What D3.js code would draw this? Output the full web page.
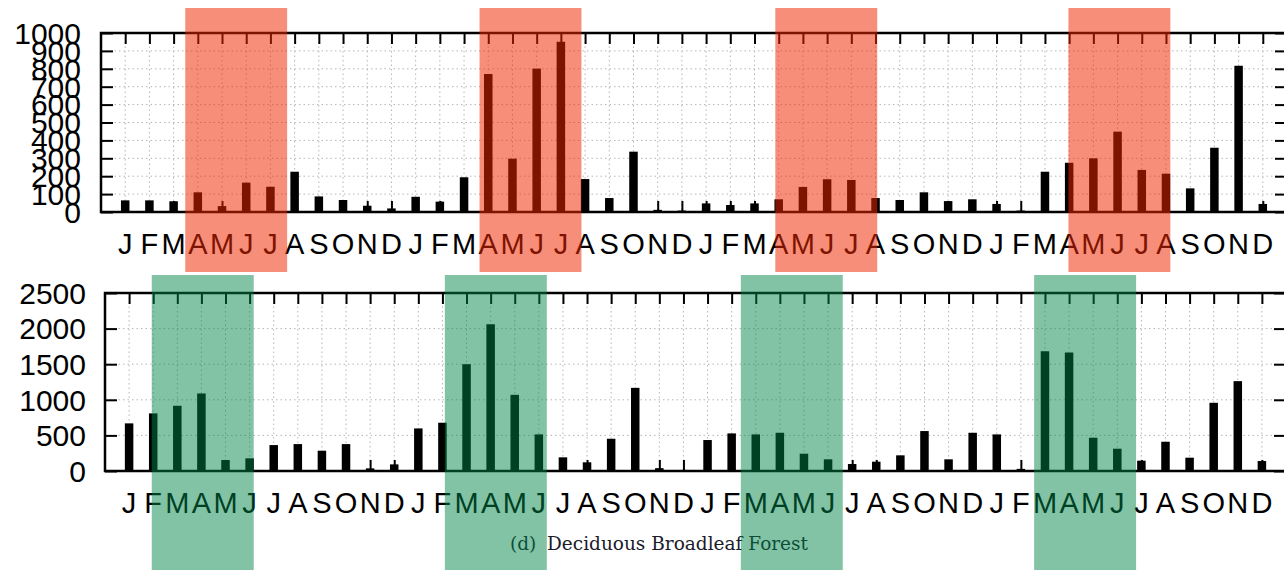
<!DOCTYPE html>
<html>
<head>
<meta charset="utf-8">
<script src="https://cdnjs.cloudflare.com/ajax/libs/d3/7.8.5/d3.min.js"></script>
<style>
	html, body { margin: 0; padding: 0; background: #fff; }
	svg { display: block; }
	.grid line { stroke: #b5b5b5; stroke-width: 1; stroke-dasharray: 1.5,3; }
	.tick-label { font-family: 'Liberation Sans', Arial, Helvetica, sans-serif; fill: #000; }
	.caption { font-family: 'DejaVu Serif', 'Liberation Serif', serif; fill: #1b1b2a; }
</style>
</head>
<body>
<svg id="chart" width="1284" height="570"></svg>
<script>
// month letters, repeated for 4 years on the x axis
let monthLetters = ['J', 'F', 'M', 'A', 'M', 'J', 'J', 'A', 'S', 'O', 'N', 'D'];
let monthLabels = [].concat(monthLetters, monthLetters, monthLetters, monthLetters);

// upper panel (monthly values, 4 years)
let topValues = [
	65, 65, 60, 110, 33, 164, 141, 225, 87, 67, 35, 20,
	85, 58, 194, 771, 298, 801, 951, 184, 78, 337, 12, 8,
	48, 39, 48, 71, 140, 183, 179, 78, 67, 110, 61, 71,
	45, 8, 225, 275, 300, 449, 235, 214, 132, 359, 817, 45
];
let topTicks = [0, 100, 200, 300, 400, 500, 600, 700, 800, 900, 1000];
// shaded season, start in month units (0 = first bar), width in months
let topShadeStart = [2.48, 14.64, 26.86, 38.97];
let topShadeWidth = 4.21;

// lower panel
let bottomValues = [
	669, 809, 916, 1089, 154, 178, 364, 378, 285, 378, 37, 93,
	598, 678, 1500, 2061, 1070, 514, 192, 122, 453, 1168, 40, 15,
	435, 528, 514, 537, 243, 164, 98, 131, 220, 561, 164, 537,
	514, 30, 1682, 1664, 467, 313, 145, 411, 187, 958, 1262, 140
];
let bottomTicks = [0, 500, 1000, 1500, 2000, 2500];
let bottomShadeStart = [0.94, 13.1, 25.38, 37.55];
let bottomShadeWidth = 4.23;

let caption = ['(d)', 'Deciduous Broadleaf Forest'];

/*global d3*/
let svg = d3.select('#chart');

let panels = [{
	values: topValues, ticks: topTicks, max: 1000,
	shades: topShadeStart, shadeWidth: topShadeWidth,
	left: 101, right: 1287, top: 33, bottom: 212,
	labelX: 81, monthY: 254,
	shadeTop: 8, shadeBottom: 272,
	shadeColor: 'rgb(240,38,0)', shadeOpacity: 0.52
}, {
	values: bottomValues, ticks: bottomTicks, max: 2500,
	shades: bottomShadeStart, shadeWidth: bottomShadeWidth,
	left: 105, right: 1286, top: 293, bottom: 471,
	labelX: 86, monthY: 513,
	shadeTop: 275, shadeBottom: 570,
	shadeColor: 'rgb(0,130,72)', shadeOpacity: 0.49
}];

let layers = panels.map(() => svg.append('g'));
let shadeLayer = svg.append('g');

panels.forEach((p, k) => {
	let g = layers[k];
	let idx = d3.range(p.values.length);

	let x = d3.scaleLinear()
		.domain([-1, p.values.length])
		.range([p.left, p.right]);
	let y = d3.scaleLinear()
		.domain([0, p.max])
		.range([p.bottom, p.top]);

	// dotted grid
	let grid = g.append('g').attr('class', 'grid');
	grid.selectAll('.gx')
		.data(idx)
		.enter().append('line')
		.attr('x1', d => x(d)).attr('x2', d => x(d))
		.attr('y1', p.top).attr('y2', p.bottom);
	grid.selectAll('.gy')
		.data(p.ticks.slice(1, -1))
		.enter().append('line')
		.attr('x1', p.left).attr('x2', p.right)
		.attr('y1', d => y(d)).attr('y2', d => y(d));

	// inward ticks on all four sides
	let tickStyle = sel => {
		sel.select('.domain').remove();
		sel.selectAll('.tick line').attr('stroke', '#000').attr('stroke-width', 2);
		sel.selectAll('.tick text').remove();
	};
	g.append('g')
		.attr('transform', `translate(0,${p.top})`)
		.call(d3.axisTop(x).tickValues(idx).tickSize(-11))
		.call(tickStyle);
	g.append('g')
		.attr('transform', `translate(0,${p.bottom})`)
		.call(d3.axisBottom(x).tickValues(idx).tickSize(-11))
		.call(tickStyle);
	g.append('g')
		.attr('transform', `translate(${p.left},0)`)
		.call(d3.axisLeft(y).tickValues(p.ticks).tickSize(-12))
		.call(tickStyle);
	g.append('g')
		.attr('transform', `translate(${p.right},0)`)
		.call(d3.axisRight(y).tickValues(p.ticks).tickSize(-12))
		.call(tickStyle);

	// bars
	let barW = 8.5;
	g.selectAll('.bar')
		.data(p.values)
		.enter().append('rect')
		.attr('class', 'bar')
		.attr('x', (d, i) => x(i) - barW / 2)
		.attr('width', barW)
		.attr('y', d => y(d))
		.attr('height', d => y(0) - y(d))
		.attr('fill', '#000');

	// frame
	g.append('rect')
		.attr('x', p.left).attr('y', p.top)
		.attr('width', p.right - p.left)
		.attr('height', p.bottom - p.top)
		.attr('fill', 'none')
		.attr('stroke', '#000')
		.attr('stroke-width', 2.5);

	// y labels (they crowd each other in the upper panel, as in the original)
	g.selectAll('.ylab')
		.data(p.ticks)
		.enter().append('text')
		.attr('class', 'tick-label')
		.attr('x', p.labelX)
		.attr('y', d => y(d))
		.attr('dy', '0.36em')
		.attr('text-anchor', 'end')
		.style('font-size', '30px')
		.text(d => d);

	// month letters
	g.selectAll('.xlab')
		.data(monthLabels)
		.enter().append('text')
		.attr('class', 'tick-label')
		.attr('x', (d, i) => x(i))
		.attr('y', p.monthY)
		.attr('text-anchor', 'middle')
		.style('font-size', '29px')
		.text(d => d);

	// translucent season boxes drawn over everything
	shadeLayer.selectAll(`.shade${k}`)
		.data(p.shades)
		.enter().append('rect')
		.attr('x', d => x(d))
		.attr('width', x(p.shadeWidth) - x(0))
		.attr('y', p.shadeTop)
		.attr('height', p.shadeBottom - p.shadeTop)
		.attr('fill', p.shadeColor)
		.attr('fill-opacity', p.shadeOpacity);
});

// caption sits under the shading
let cap = layers[1].append('text')
	.attr('class', 'caption')
	.attr('x', 510)
	.attr('y', 550)
	.style('font-size', '18.5px');
cap.append('tspan').text(caption[0]);
cap.append('tspan').attr('x', 547).text(caption[1]);
</script>
</body>
</html>
